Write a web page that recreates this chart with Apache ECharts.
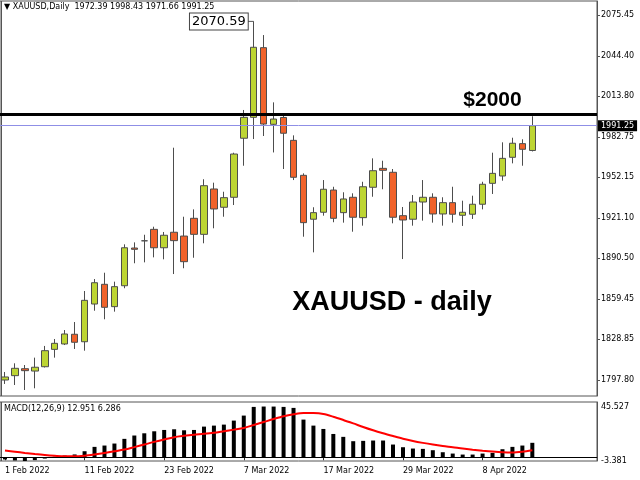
<!DOCTYPE html>
<html><head><meta charset="utf-8">
<script src="https://cdn.jsdelivr.net/npm/echarts@6/dist/echarts.min.js"></script>
<style>html,body{margin:0;padding:0;background:#fff}#c{width:640px;height:480px}</style>
</head><body><div id="c"></div>
<script>
const dates = ['1 Feb 2022','2 Feb 2022','3 Feb 2022','4 Feb 2022','7 Feb 2022','8 Feb 2022','9 Feb 2022','10 Feb 2022','11 Feb 2022',
'14 Feb 2022','15 Feb 2022','16 Feb 2022','17 Feb 2022','18 Feb 2022','21 Feb 2022','22 Feb 2022','23 Feb 2022','24 Feb 2022','25 Feb 2022',
'28 Feb 2022','1 Mar 2022','2 Mar 2022','3 Mar 2022','4 Mar 2022','7 Mar 2022','8 Mar 2022','9 Mar 2022','10 Mar 2022','11 Mar 2022',
'14 Mar 2022','15 Mar 2022','16 Mar 2022','17 Mar 2022','18 Mar 2022','21 Mar 2022','22 Mar 2022','23 Mar 2022','24 Mar 2022','25 Mar 2022',
'28 Mar 2022','29 Mar 2022','30 Mar 2022','31 Mar 2022','1 Apr 2022','4 Apr 2022','5 Apr 2022','6 Apr 2022','7 Apr 2022','8 Apr 2022',
'11 Apr 2022','12 Apr 2022','13 Apr 2022','14 Apr 2022','18 Apr 2022'];
const padSlots = ['p1','p2','p3','p4','p5','p6'];

const opens = [1797.8,1801.1,1806.4,1804.6,1807.9,1821.1,1825.2,1832.6,1826.9,1855.6,
1870.6,1853.6,1869.5,1898.2,1903.7,1912.4,1898.4,1910.2,1907.3,1920.8,
1908.6,1943.1,1929.2,1936.8,1981.7,1997.6,2050.6,1992.3,1997.5,1980.1,
1953.5,1920.1,1925.4,1942.3,1925.1,1936.8,1921.3,1944.4,1958.8,1955.8,
1922.8,1920.1,1933.2,1936.8,1924.1,1932.7,1923.1,1923.9,1931.5,1947.4,
1953.0,1967.2,1977.6,1972.39];
const closes = [1800.1,1806.7,1804.9,1807.5,1820.1,1825.7,1832.8,1826.5,1858.4,1871.8,
1853.1,1868.8,1898.4,1897.2,1903.7,1898.4,1907.9,1903.8,1887.8,1908.6,
1945.6,1927.9,1936.5,1969.7,1997.6,2050.9,1992.5,1996.3,1985.5,1952.0,
1917.5,1925.1,1942.9,1920.8,1935.5,1921.6,1944.8,1957.0,1957.3,1921.6,
1919.5,1933.2,1936.8,1924.1,1932.7,1923.9,1925.4,1931.5,1946.7,1955.0,
1966.4,1977.9,1973.3,1991.25];
const lows = [1794.8,1794.0,1790.2,1791.5,1807.3,1814.8,1824.4,1821.4,1820.1,1850.5,
1844.0,1849.8,1867.6,1886.6,1887.3,1891.1,1889.6,1878.4,1882.8,1890.8,
1901.8,1913.2,1922.0,1930.9,1960.8,1981.1,1983.4,1970.9,1958.3,1949.9,
1906.8,1894.9,1922.8,1917.8,1917.5,1910.6,1915.2,1937.2,1942.9,1917.0,
1889.8,1915.2,1919.0,1917.5,1915.2,1917.5,1915.0,1920.3,1927.6,1939.3,
1949.4,1962.6,1960.8,1971.66];
const highs = [1803.9,1810.5,1809.2,1814.8,1823.7,1829.0,1835.8,1841.9,1865.5,1874.6,
1879.4,1872.6,1901.0,1902.5,1908.3,1914.4,1910.4,1974.5,1922.0,1927.6,
1950.5,1947.9,1941.0,1970.7,2003.2,2070.59,2060.2,2009.0,1999.4,1983.9,
1955.0,1929.2,1949.9,1944.8,1940.6,1939.8,1948.6,1966.4,1964.6,1958.3,
1929.4,1938.5,1949.9,1939.8,1936.8,1944.8,1934.2,1938.0,1948.6,1970.7,
1978.6,1982.1,1980.9,1998.43];

const macdHist = [-2.0,-2.9,-3.381,-2.6,-1.2,0.5,1.5,2.5,5.4,9.3,
10.5,12.3,16.5,19.5,21.5,23.3,24.5,25.1,24.2,24.5,
27.5,28.4,29.3,32.9,37.4,45.2,45.527,45.5,45.2,44.3,
33.8,28.4,25.4,20.9,18.3,14.4,14.7,15.0,15.0,11.4,
9.0,7.8,7.5,6.3,4.5,3.3,2.4,2.4,3.3,3.9,
7.2,9.3,10.5,12.951];
const macdSignal = [6.0,5.0,3.9,2.9,2.0,1.3,0.8,0.8,1.4,2.5,
3.8,5.3,6.9,9.1,11.4,13.8,16.0,18.0,19.2,20.2,
21.0,22.0,23.4,24.8,26.3,28.9,31.6,34.3,36.8,38.6,
39.8,39.7,38.8,36.4,33.5,30.4,27.2,24.2,21.5,19.0,
16.6,14.6,12.9,11.4,10.1,9.0,7.8,6.8,5.9,5.1,
4.5,4.3,5.0,6.286];

const priceTicks = [2075.45,2044.40,2013.80,1982.75,1952.15,1921.10,1890.50,1859.45,1828.85,1797.80];
const macdTicks = [45.527,-3.381];
const levelPrice = 2000;
const bidPrice = 1991.25;
const peakIndex = 25;
const peakHigh = 2070.59;

const cats = dates.concat(padSlots);
const candleData = dates.map((d,i)=>[opens[i], closes[i], lows[i], highs[i]]);
const showIdx = (i)=> i % 8 === 0 && i < dates.length;
const FONT = 'DejaVu Sans';

const chart = echarts.init(document.getElementById('c'), null, {renderer:'canvas'});
chart.setOption({
  animation:false,
  backgroundColor:'#fff',
  grid:[
    {left:-2, right:43, top:1, bottom:84, show:true, borderColor:'#555', borderWidth:1, backgroundColor:'transparent'},
    {left:-2, right:43, top:402, bottom:19, show:true, borderColor:'#555', borderWidth:1, backgroundColor:'transparent'}
  ],
  xAxis:[
    {gridIndex:0, type:'category', data:cats, boundaryGap:true, axisLine:{show:false}, axisTick:{show:false}, axisLabel:{show:false}, splitLine:{show:false}},
    {gridIndex:1, type:'category', data:cats, boundaryGap:true,
      axisLine:{show:true, lineStyle:{color:'#333'}},
      axisTick:{show:true, alignWithLabel:true, length:3, interval:(i)=>showIdx(i), lineStyle:{color:'#333'}},
      axisLabel:{show:true, interval:(i)=>showIdx(i), align:'left', margin:6, fontSize:8, fontFamily:FONT, color:'#000'},
      splitLine:{show:false}}
  ],
  yAxis:[
    {gridIndex:0, type:'value', position:'right', min:1785.63, max:2086.10,
      axisLine:{show:true, lineStyle:{color:'#555'}},
      axisTick:{show:true, length:3, customValues:priceTicks, lineStyle:{color:'#555'}},
      axisLabel:{show:true, customValues:priceTicks, formatter:(v)=>v.toFixed(2), margin:4, fontSize:8, fontFamily:FONT, color:'#000'},
      splitLine:{show:false}},
    {gridIndex:1, type:'value', position:'right', min:-3.381, max:49.6,
      axisLine:{show:true, lineStyle:{color:'#555'}},
      axisTick:{show:false},
      axisLabel:{show:true, customValues:macdTicks, formatter:(v)=>v.toFixed(3), margin:4, fontSize:8, fontFamily:FONT, color:'#000'},
      splitLine:{show:false}}
  ],
  series:[
    {type:'candlestick', xAxisIndex:0, yAxisIndex:0, data:candleData, barWidth:7,
      itemStyle:{color:'#bdd533', color0:'#f0622a', borderColor:'#4d4d4d', borderColor0:'#4d4d4d', borderWidth:1},
      markLine:{silent:true, symbol:['none','none'], animation:false,
        data:[
          {yAxis:levelPrice, lineStyle:{color:'#000', width:3, type:'solid'}, label:{show:false}},
          {yAxis:bidPrice, lineStyle:{color:'#8f8fe6', width:1, type:'solid', opacity:1}, z:1,
            label:{show:true, position:'end', distance:1, formatter:bidPrice.toFixed(2), color:'#fff', backgroundColor:'#000', padding:[2,3,1,3], fontSize:8, fontFamily:FONT}}
        ]}
    },
    {type:'bar', xAxisIndex:1, yAxisIndex:1, data:macdHist, barWidth:4, itemStyle:{color:'#000'},
      markLine:{silent:true, symbol:['none','none'], animation:false,
        data:[{yAxis:0, lineStyle:{color:'#000', width:1, type:'solid'}, label:{show:false}}]}},
    {type:'line', xAxisIndex:1, yAxisIndex:1, data:macdSignal, showSymbol:false, symbol:'none', smooth:0.3,
      lineStyle:{color:'#ff0000', width:2}, z:3}
  ]
});

const pk = chart.convertToPixel({xAxisIndex:0, yAxisIndex:0}, [peakIndex, peakHigh]);
const lv = chart.convertToPixel({xAxisIndex:0, yAxisIndex:0}, [49, levelPrice]);
const last = dates.length - 1;
chart.setOption({
  graphic:[
    {type:'line', shape:{x1:1.5, y1:1, x2:1.5, y2:396}, style:{stroke:'#555', lineWidth:1}, silent:true},
    {type:'line', shape:{x1:1.5, y1:402, x2:1.5, y2:461}, style:{stroke:'#555', lineWidth:1}, silent:true},
    {type:'text', left:4, top:3, style:{text:'\u25BC XAUUSD,Daily  ' + opens[last].toFixed(2) + ' ' + highs[last].toFixed(2) + ' ' + lows[last].toFixed(2) + ' ' + closes[last].toFixed(2),
      font:'8px "DejaVu Sans"', fill:'#000'}, z:10},
    {type:'text', left:4, top:405, style:{text:'MACD(12,26,9) ' + macdHist[last].toFixed(3) + ' ' + macdSignal[last].toFixed(3),
      font:'8px "DejaVu Sans"', fill:'#000'}, z:10},
    {type:'line', shape:{x1:pk[0]-7, y1:pk[1], x2:pk[0], y2:pk[1]}, style:{stroke:'#555', lineWidth:1}, silent:true, z:10},
    {type:'text', x:pk[0]-6, y:pk[1], style:{text:peakHigh.toFixed(2), align:'right', verticalAlign:'middle',
      font:'13px "DejaVu Sans"', fill:'#000', backgroundColor:'#fff', borderColor:'#444', borderWidth:1, padding:[2,2,1,2]}, z:11},
    {type:'text', x:lv[0], y:lv[1]-14, style:{text:'$' + levelPrice, align:'center', verticalAlign:'middle',
      font:'bold 21px "Liberation Sans"', fill:'#000'}, z:10},
    {type:'text', x:392, y:303, style:{text:'XAUUSD - daily', align:'center', verticalAlign:'middle',
      font:'bold 27px "Liberation Sans"', fill:'#000'}, z:10}
  ]
});
</script></body></html>
